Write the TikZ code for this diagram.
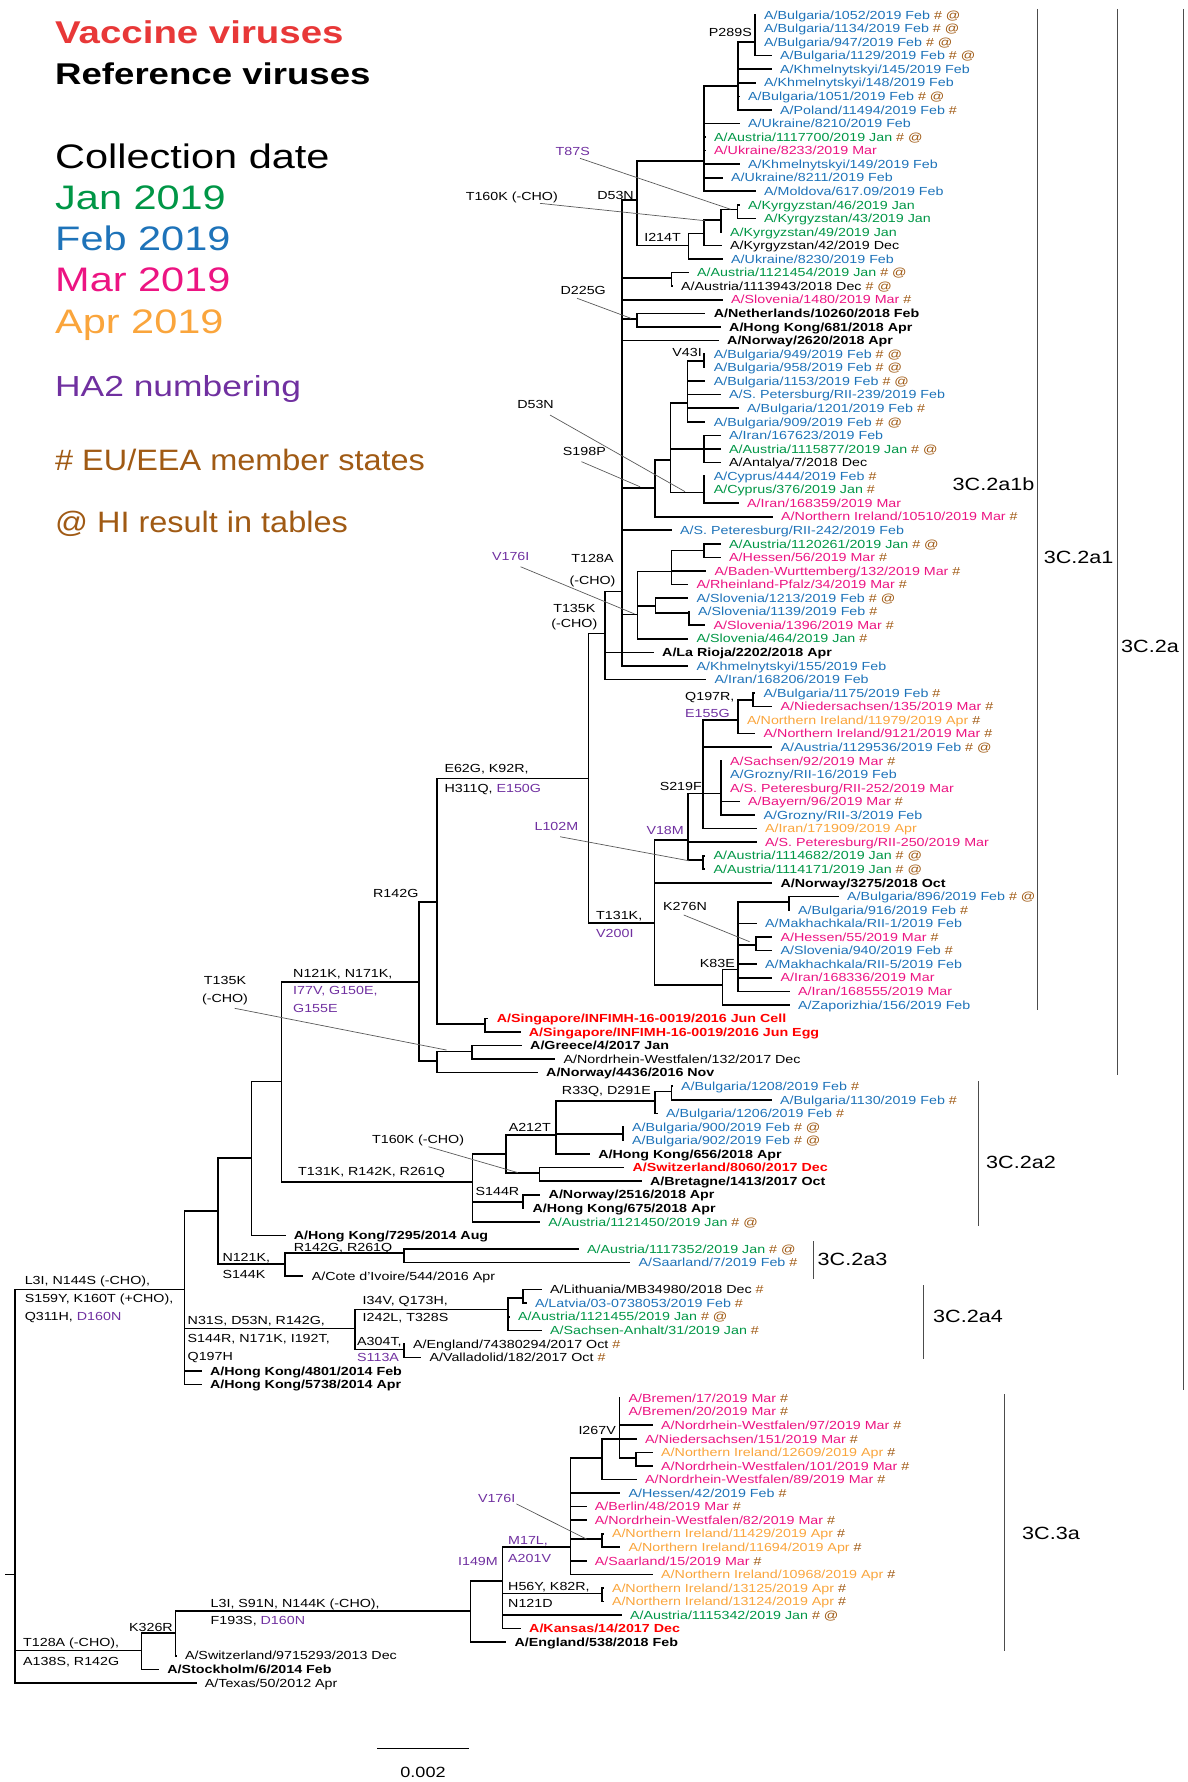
\documentclass[tikz,border=0pt]{standalone}
\usepackage{fontspec}
\setmainfont[FakeStretch=1.22]{Liberation Sans}
\newfontfamily\legB[FakeStretch=1.1]{Liberation Sans}
\definecolor{jan}{RGB}{0,150,70}
\definecolor{feb}{RGB}{30,115,185}
\definecolor{mar}{RGB}{236,20,130}
\definecolor{apr}{RGB}{250,165,60}
\definecolor{ha}{RGB}{112,48,160}
\definecolor{brn}{RGB}{160,90,20}
\definecolor{vred}{RGB}{255,0,0}
\definecolor{lred}{RGB}{232,56,56}
\newcommand\lfont{\fontsize{11.7}{13}\selectfont}
\newcommand\HS{ \textcolor{brn}{\#}}
\newcommand\HA{ \textcolor{brn}{\# @}}
\newcommand\pu[1]{\textcolor{ha}{#1}}
\newcommand\lf[5]{\node[leaf,#4] (n#1) at ({#3-9},#1) {#5}; \draw[br] (#2,#1) -- (n#1.west);}
\newcommand\cl[5]{\draw[br] (#1,#2) -- (#3,#2) (#3,#4) -- (#3,#5);}
\begin{document}
\begin{tikzpicture}[x=1pt,y=-1pt,
  br/.style={line width=1.6pt,line cap=rect},
  ld/.style={draw=black!65,line width=0.7pt},
  cbar/.style={draw=black!70,line width=1pt},
  leaf/.style={anchor=west,inner xsep=9pt,inner ysep=0pt,font=\lfont,text height=9pt,text depth=0.6pt},
  mut/.style={font=\lfont,inner sep=0pt,text height=9pt,text depth=0.6pt},
  ja/.style={text=jan}, fe/.style={text=feb}, ma/.style={text=mar}, ap/.style={text=apr},
  bk/.style={}, bf/.style={font=\lfont\bfseries}, vc/.style={font=\lfont\bfseries,text=vred},
  clab/.style={font=\fontsize{17.7}{20}\selectfont,anchor=west,inner sep=0pt,text height=12.7pt,text depth=0pt},
  leg/.style={anchor=base west,inner sep=0pt}]
\useasboundingbox (0,0) rectangle (1187,1782);
% legend
\node[leg,text=lred,font=\fontsize{31.5}{34}\selectfont\bfseries] (lgV) at (55,44) {Vaccine viruses};
\node[leg,font=\fontsize{30}{34}\selectfont\bfseries] (lgR) at (55,84.7) {Reference viruses};
\node[leg,font=\fontsize{34}{38}\selectfont] (lgC) at (55,168.9) {Collection date};
\node[leg,text=jan,font=\fontsize{34}{38}\selectfont] (lgJ) at (55,209.2) {Jan 2019};
\node[leg,text=feb,font=\fontsize{34}{38}\selectfont] (lgF) at (55,250.5) {Feb 2019};
\node[leg,text=mar,font=\fontsize{34}{38}\selectfont] (lgM) at (55,291.8) {Mar 2019};
\node[leg,text=apr,font=\fontsize{34}{38}\selectfont] (lgA) at (55,333.2) {Apr 2019};
\node[leg,text=ha,font=\fontsize{29}{32}\selectfont] (lgH) at (55,396.1) {HA2 numbering};
\node[leg,text=brn,font=\legB\fontsize{29.5}{32}\selectfont] (lgE) at (55,470.3) {\# EU/EEA member states};
\node[leg,text=brn,font=\legB\fontsize{29.5}{32}\selectfont] (lgI) at (55,532.3) {@ HI result in tables};
% clade bars
\draw[cbar] (1037,9) -- (1037,1010);
\draw[cbar] (1117,9) -- (1117,1075);
\draw[cbar] (1183.5,9) -- (1183.5,1389.5);
\draw[cbar] (978,1081) -- (978,1225.5);
\draw[cbar] (813.3,1241) -- (813.3,1279.3);
\draw[cbar] (923.5,1285) -- (923.5,1359);
\draw[cbar] (1004,1394) -- (1004,1651);
\node[clab] (c1) at (952.5,484.3) {3C.2a1b};
\node[clab] (c2) at (1043.6,556.7) {3C.2a1};
\node[clab] (c3) at (1121,646) {3C.2a};
\node[clab] (c4) at (986,1161.7) {3C.2a2};
\node[clab] (c5) at (817.5,1259.3) {3C.2a3};
\node[clab] (c6) at (933,1316) {3C.2a4};
\node[clab] (c7) at (1022,1533.3) {3C.3a};
% scale bar
\draw[line width=1.6pt] (377,1748.3) -- (468.8,1748.3);
\node[font=\fontsize{14.8}{16}\selectfont,inner sep=0pt] (sc) at (423,1772.7) {0.002};
\begin{scope}[y=-13.56pt,yshift=-1.44pt]
% internal nodes
\cl{738}{2.97}{754.8}{1}{4}
\cl{704}{6.24}{738}{2.97}{8}
\cl{636.7}{11.77}{704}{6.24}{14}
\cl{721}{15.35}{737.5}{15}{16}
\cl{704}{16.1}{721}{15.35}{17}
\cl{688.3}{17.1}{704}{16.1}{18}
\cl{636.7}{18}{688.3}{17.1}{19}
\cl{622}{14.65}{636.7}{11.77}{18}
\cl{622}{20.4}{671.6}{20}{21}
\cl{622}{23.4}{637}{23}{24}
\cl{687.4}{26.5}{704}{26}{27}
\cl{670.3}{29.6}{687.4}{26.5}{31}
\cl{670.3}{33}{704}{32}{34}
\cl{670.3}{36.2}{704}{35}{37}
\cl{655}{33.8}{670.3}{29.6}{36.2}
\cl{622}{35.9}{655}{33.8}{38}
\cl{671.6}{40.5}{704}{40}{41}
\cl{637.4}{42.05}{671.6}{40.5}{43}
\cl{655.4}{45.1}{688.8}{45}{46}
\cl{637.4}{44.6}{655.4}{44}{45.1}
\cl{622}{45.2}{637.4}{42.05}{47}
\cl{605}{43.5}{622}{14.65}{49}
\cl{588.5}{46.6}{605}{43.5}{50}
\cl{737.7}{51.5}{753.2}{51}{52}
\cl{703.2}{53}{737.7}{51.5}{54}
\cl{703.2}{58.4}{720.7}{56}{60}
\cl{687.8}{58.4}{703.2}{53}{61}
\cl{687.8}{63.3}{703.2}{63}{64}
\cl{654.3}{61.84}{687.8}{58.4}{63.3}
\cl{737.7}{66.4}{789}{66}{67}
\cl{737.7}{69.6}{755.7}{69}{70}
\cl{722.3}{71.4}{737.7}{66.4}{73}
\cl{654.3}{72.53}{722.3}{71.4}{74}
\cl{588.5}{67.98}{654.3}{61.84}{72.53}
\cl{437}{57.3}{588.5}{46.6}{67.98}
\cl{437}{75.4}{485}{75}{76}
\cl{419}{66.4}{437}{57.3}{75.4}
\cl{437}{77.45}{472.2}{77}{78}
\cl{419}{78.14}{437}{77.45}{79}
\cl{281.5}{72.3}{419}{66.4}{78.14}
\cl{655.2}{80.4}{671.3}{80}{81}
\cl{555.8}{81.1}{655.2}{80.4}{82}
\cl{555.8}{83.5}{623.1}{83}{84}
\cl{505.8}{83.6}{555.8}{81.1}{85}
\cl{505.8}{86.4}{539.3}{86}{87}
\cl{472.3}{85}{505.8}{83.6}{86.4}
\cl{472.3}{88.55}{522.9}{88}{89}
\cl{281.5}{87.04}{472.3}{85}{90}
\cl{251.3}{79.66}{281.5}{72.3}{87.04}
\cl{218}{85.3}{251.3}{79.66}{91}
\cl{284.8}{92.3}{404}{92}{93}
\cl{218}{93.1}{284.8}{92.3}{94}
\cl{184.4}{89.2}{218}{85.3}{93.1}
\cl{508}{95.6}{523.2}{95}{96}
\cl{355}{96.45}{508}{95.6}{98}
\cl{355}{99.4}{404}{99}{100}
\cl{184.4}{97.85}{355}{96.45}{99.4}
\cl{15}{94.98}{184.4}{89.2}{102}
\cl{619.3}{107.4}{636}{107}{108}
\cl{601.8}{106}{619.3}{103}{107.4}
\cl{570.6}{107.4}{601.8}{106}{109}
\cl{570.6}{113.4}{601.8}{113}{114}
\cl{502.6}{114}{570.6}{107.4}{116}
\cl{502.6}{117.4}{601.8}{117}{118}
\cl{470.3}{116.5}{502.6}{114}{120}
\cl{175.3}{118.7}{470.3}{116.5}{121}
\cl{141.6}{120.3}{175.3}{118.7}{122}
\cl{15}{121.6}{141.6}{120.3}{123}
\draw[br] (5.7,116) -- (15,116) (15,94.98) -- (15,124);
% leaves
\lf{1}{754.8}{764}{fe}{A/Bulgaria/1052/2019 Feb\HA}
\lf{2}{754.8}{764}{fe}{A/Bulgaria/1134/2019 Feb\HA}
\lf{3}{754.8}{764}{fe}{A/Bulgaria/947/2019 Feb\HA}
\lf{4}{754.8}{780}{fe}{A/Bulgaria/1129/2019 Feb\HA}
\lf{5}{738}{780}{fe}{A/Khmelnytskyi/145/2019 Feb}
\lf{6}{738}{764}{fe}{A/Khmelnytskyi/148/2019 Feb}
\lf{7}{738}{748}{fe}{A/Bulgaria/1051/2019 Feb\HA}
\lf{8}{738}{780}{fe}{A/Poland/11494/2019 Feb\HS}
\lf{9}{704}{748}{fe}{A/Ukraine/8210/2019 Feb}
\lf{10}{704}{714}{ja}{A/Austria/1117700/2019 Jan\HA}
\lf{11}{704}{714}{ma}{A/Ukraine/8233/2019 Mar}
\lf{12}{704}{748}{fe}{A/Khmelnytskyi/149/2019 Feb}
\lf{13}{704}{731}{fe}{A/Ukraine/8211/2019 Feb}
\lf{14}{704}{764}{fe}{A/Moldova/617.09/2019 Feb}
\lf{15}{737.5}{748}{ja}{A/Kyrgyzstan/46/2019 Jan}
\lf{16}{737.5}{764}{ja}{A/Kyrgyzstan/43/2019 Jan}
\lf{17}{721}{730}{ja}{A/Kyrgyzstan/49/2019 Jan}
\lf{18}{704}{730}{bk}{A/Kyrgyzstan/42/2019 Dec}
\lf{19}{688.3}{731}{fe}{A/Ukraine/8230/2019 Feb}
\lf{20}{671.6}{697}{ja}{A/Austria/1121454/2019 Jan\HA}
\lf{21}{671.6}{681}{bk}{A/Austria/1113943/2018 Dec\HA}
\lf{22}{622}{731}{ma}{A/Slovenia/1480/2019 Mar\HS}
\lf{23}{637}{713.6}{bf}{A/Netherlands/10260/2018 Feb}
\lf{24}{637}{729}{bf}{A/Hong Kong/681/2018 Apr}
\lf{25}{622}{727}{bf}{A/Norway/2620/2018 Apr}
\lf{26}{704}{713.6}{fe}{A/Bulgaria/949/2019 Feb\HA}
\lf{27}{704}{713.6}{fe}{A/Bulgaria/958/2019 Feb\HA}
\lf{28}{687.4}{713.6}{fe}{A/Bulgaria/1153/2019 Feb\HA}
\lf{29}{687.4}{729}{fe}{A/S. Petersburg/RII-239/2019 Feb}
\lf{30}{687.4}{747}{fe}{A/Bulgaria/1201/2019 Feb\HS}
\lf{31}{687.4}{713.6}{fe}{A/Bulgaria/909/2019 Feb\HA}
\lf{32}{704}{729}{fe}{A/Iran/167623/2019 Feb}
\lf{33}{704}{729}{ja}{A/Austria/1115877/2019 Jan\HA}
\lf{34}{704}{729}{bk}{A/Antalya/7/2018 Dec}
\lf{35}{704}{713.6}{fe}{A/Cyprus/444/2019 Feb\HS}
\lf{36}{704}{713.6}{ja}{A/Cyprus/376/2019 Jan\HS}
\lf{37}{704}{747}{ma}{A/Iran/168359/2019 Mar}
\lf{38}{655}{781}{ma}{A/Northern Ireland/10510/2019 Mar\HS}
\lf{39}{622}{680}{fe}{A/S. Peteresburg/RII-242/2019 Feb}
\lf{40}{704}{729}{ja}{A/Austria/1120261/2019 Jan\HA}
\lf{41}{704}{729}{ma}{A/Hessen/56/2019 Mar\HS}
\lf{42}{671.6}{714.5}{ma}{A/Baden-Wurttemberg/132/2019 Mar\HS}
\lf{43}{671.6}{696.4}{ma}{A/Rheinland-Pfalz/34/2019 Mar\HS}
\lf{44}{655.4}{696.5}{fe}{A/Slovenia/1213/2019 Feb\HA}
\lf{45}{688.8}{698}{fe}{A/Slovenia/1139/2019 Feb\HS}
\lf{46}{688.8}{713.5}{ma}{A/Slovenia/1396/2019 Mar\HS}
\lf{47}{637.4}{696.5}{ja}{A/Slovenia/464/2019 Jan\HS}
\lf{48}{605}{662}{bf}{A/La Rioja/2202/2018 Apr}
\lf{49}{622}{696.5}{fe}{A/Khmelnytskyi/155/2019 Feb}
\lf{50}{605}{714.5}{fe}{A/Iran/168206/2019 Feb}
\lf{51}{753.2}{763.5}{fe}{A/Bulgaria/1175/2019 Feb\HS}
\lf{52}{753.2}{780.4}{ma}{A/Niedersachsen/135/2019 Mar\HS}
\lf{53}{737.7}{747}{ap}{A/Northern Ireland/11979/2019 Apr\HS}
\lf{54}{737.7}{763.5}{ma}{A/Northern Ireland/9121/2019 Mar\HS}
\lf{55}{703.2}{780.4}{fe}{A/Austria/1129536/2019 Feb\HA}
\lf{56}{720.7}{730}{ma}{A/Sachsen/92/2019 Mar\HS}
\lf{57}{720.7}{730}{fe}{A/Grozny/RII-16/2019 Feb}
\lf{58}{720.7}{730}{ma}{A/S. Peteresburg/RII-252/2019 Mar}
\lf{59}{720.7}{748}{ma}{A/Bayern/96/2019 Mar\HS}
\lf{60}{720.7}{763.5}{fe}{A/Grozny/RII-3/2019 Feb}
\lf{61}{703.2}{765}{ap}{A/Iran/171909/2019 Apr}
\lf{62}{687.8}{765}{ma}{A/S. Peteresburg/RII-250/2019 Mar}
\lf{63}{703.2}{713.5}{ja}{A/Austria/1114682/2019 Jan\HA}
\lf{64}{703.2}{713.5}{ja}{A/Austria/1114171/2019 Jan\HA}
\lf{65}{654.3}{780.4}{bf}{A/Norway/3275/2018 Oct}
\lf{66}{789}{847}{fe}{A/Bulgaria/896/2019 Feb\HA}
\lf{67}{789}{798}{fe}{A/Bulgaria/916/2019 Feb\HS}
\lf{68}{737.7}{765}{fe}{A/Makhachkala/RII-1/2019 Feb}
\lf{69}{755.7}{780.4}{ma}{A/Hessen/55/2019 Mar\HS}
\lf{70}{755.7}{780.4}{fe}{A/Slovenia/940/2019 Feb\HS}
\lf{71}{737.7}{765}{fe}{A/Makhachkala/RII-5/2019 Feb}
\lf{72}{737.7}{780.4}{ma}{A/Iran/168336/2019 Mar}
\lf{73}{737.7}{798}{ma}{A/Iran/168555/2019 Mar}
\lf{74}{722.3}{798}{fe}{A/Zaporizhia/156/2019 Feb}
\lf{75}{485}{496.6}{vc}{A/Singapore/INFIMH-16-0019/2016 Jun Cell}
\lf{76}{485}{528.7}{vc}{A/Singapore/INFIMH-16-0019/2016 Jun Egg}
\lf{77}{472.2}{530}{bf}{A/Greece/4/2017 Jan}
\lf{78}{472.2}{563.4}{bk}{A/Nordrhein-Westfalen/132/2017 Dec}
\lf{79}{437}{546}{bf}{A/Norway/4436/2016 Nov}
\lf{80}{671.3}{681}{fe}{A/Bulgaria/1208/2019 Feb\HS}
\lf{81}{671.3}{780}{fe}{A/Bulgaria/1130/2019 Feb\HS}
\lf{82}{655.2}{666}{fe}{A/Bulgaria/1206/2019 Feb\HS}
\lf{83}{623.1}{632}{fe}{A/Bulgaria/900/2019 Feb\HA}
\lf{84}{623.1}{632}{fe}{A/Bulgaria/902/2019 Feb\HA}
\lf{85}{555.8}{598.2}{bf}{A/Hong Kong/656/2018 Apr}
\lf{86}{539.3}{632.4}{vc}{A/Switzerland/8060/2017 Dec}
\lf{87}{539.3}{649.8}{bf}{A/Bretagne/1413/2017 Oct}
\lf{88}{522.9}{548.5}{bf}{A/Norway/2516/2018 Apr}
\lf{89}{522.9}{532.3}{bf}{A/Hong Kong/675/2018 Apr}
\lf{90}{472.3}{548.2}{ja}{A/Austria/1121450/2019 Jan\HA}
\lf{91}{251.3}{293.7}{bf}{A/Hong Kong/7295/2014 Aug}
\lf{92}{404}{587}{ja}{A/Austria/1117352/2019 Jan\HA}
\lf{93}{404}{638.4}{fe}{A/Saarland/7/2019 Feb\HS}
\lf{94}{284.8}{311.6}{bk}{A/Cote d'Ivoire/544/2016 Apr}
\lf{95}{523.2}{550}{bk}{A/Lithuania/MB34980/2018 Dec\HS}
\lf{96}{523.2}{534.8}{fe}{A/Latvia/03-0738053/2019 Feb\HS}
\lf{97}{508}{517.8}{ja}{A/Austria/1121455/2019 Jan\HA}
\lf{98}{508}{550}{ja}{A/Sachsen-Anhalt/31/2019 Jan\HS}
\lf{99}{404}{413}{bk}{A/England/74380294/2017 Oct\HS}
\lf{100}{404}{429.4}{bk}{A/Valladolid/182/2017 Oct\HS}
\lf{101}{184.4}{209.8}{bf}{A/Hong Kong/4801/2014 Feb}
\lf{102}{184.4}{209.8}{bf}{A/Hong Kong/5738/2014 Apr}
\lf{103}{619.3}{628.4}{ma}{A/Bremen/17/2019 Mar\HS}
\lf{104}{619.3}{628.4}{ma}{A/Bremen/20/2019 Mar\HS}
\lf{105}{619.3}{661}{ma}{A/Nordrhein-Westfalen/97/2019 Mar\HS}
\lf{106}{619.3}{645}{ma}{A/Niedersachsen/151/2019 Mar\HS}
\lf{107}{636}{661}{ap}{A/Northern Ireland/12609/2019 Apr\HS}
\lf{108}{636}{661}{ma}{A/Nordrhein-Westfalen/101/2019 Mar\HS}
\lf{109}{601.8}{645}{ma}{A/Nordrhein-Westfalen/89/2019 Mar\HS}
\lf{110}{570.6}{628.4}{fe}{A/Hessen/42/2019 Feb\HS}
\lf{111}{570.6}{594.7}{ma}{A/Berlin/48/2019 Mar\HS}
\lf{112}{570.6}{594.7}{ma}{A/Nordrhein-Westfalen/82/2019 Mar\HS}
\lf{113}{601.8}{611.8}{ap}{A/Northern Ireland/11429/2019 Apr\HS}
\lf{114}{601.8}{628.4}{ap}{A/Northern Ireland/11694/2019 Apr\HS}
\lf{115}{570.6}{594.7}{ma}{A/Saarland/15/2019 Mar\HS}
\lf{116}{570.6}{661}{ap}{A/Northern Ireland/10968/2019 Apr\HS}
\lf{117}{601.8}{611.8}{ap}{A/Northern Ireland/13125/2019 Apr\HS}
\lf{118}{601.8}{611.8}{ap}{A/Northern Ireland/13124/2019 Apr\HS}
\lf{119}{502.6}{629.9}{ja}{A/Austria/1115342/2019 Jan\HA}
\lf{120}{502.6}{529}{vc}{A/Kansas/14/2017 Dec}
\lf{121}{470.3}{514.4}{bf}{A/England/538/2018 Feb}
\lf{122}{175.3}{184.8}{bk}{A/Switzerland/9715293/2013 Dec}
\lf{123}{141.6}{167.2}{bf}{A/Stockholm/6/2014 Feb}
\lf{124}{15}{204.7}{bk}{A/Texas/50/2012 Apr}
% mutation labels
\node[mut,anchor=east] (mP289S) at (752,2.28) {P289S};
\node[mut,anchor=east,text=ha] (mT87S) at (590,11.08) {T87S};
\node[mut,anchor=east] (mT160Ka) at (558,14.35) {T160K (-CHO)};
\node[mut,anchor=east] (mD53Na) at (634,14.3) {D53N};
\node[mut,anchor=east] (mI214T) at (681,17.42) {I214T};
\node[mut,anchor=east] (mD225G) at (606,21.28) {D225G};
\node[mut,anchor=east] (mV43I) at (702,25.9) {V43I};
\node[mut,anchor=east] (mD53Nb) at (554,29.7) {D53N};
\node[mut,anchor=east] (mS198P) at (606,33.2) {S198P};
\node[mut] (mT128A) at (592.5,41.07) {T128A};
\node[mut] (mT128Ab) at (592.5,42.7) {(-CHO)};
\node[mut,anchor=east,text=ha] (mV176Ia) at (529.6,40.95) {V176I};
\node[mut] (mT135K) at (574.3,44.75) {T135K};
\node[mut] (mT135Kb) at (574.3,45.86) {(-CHO)};
\node[mut,anchor=west] (mQ197R) at (685,51.27) {Q197R,};
\node[mut,anchor=west,text=ha] (mE155G) at (685,52.5) {E155G};
\node[mut,anchor=west] (mE62G) at (444.3,56.55) {E62G, K92R,};
\node[mut,anchor=west] (mH311Q) at (444.3,58.03) {H311Q, \pu{E150G}};
\node[mut,anchor=east] (mS219F) at (702,57.86) {S219F};
\node[mut,anchor=west,text=ha] (mL102M) at (534.4,60.86) {L102M};
\node[mut,anchor=east,text=ha] (mV18M) at (684,61.1) {V18M};
\node[mut,anchor=east] (mR142G) at (418.6,65.77) {R142G};
\node[mut,anchor=west] (mT131K) at (596,67.4) {T131K,};
\node[mut,anchor=west,text=ha] (mV200I) at (596,68.7) {V200I};
\node[mut,anchor=west] (mK276N) at (663,66.76) {K276N};
\node[mut,anchor=east] (mK83E) at (735,70.9) {K83E};
\node[mut,anchor=west] (mN121Ka) at (293,71.65) {N121K, N171K,};
\node[mut,anchor=west,text=ha] (mI77V) at (293,72.9) {I77V, G150E,};
\node[mut,anchor=west,text=ha] (mG155E) at (293,74.25) {G155E};
\node[mut] (mT135Kc) at (225,72.2) {T135K};
\node[mut] (mT135Kd) at (225,73.5) {(-CHO)};
\node[mut,anchor=east] (mR33Q) at (651,80.3) {R33Q, D291E};
\node[mut,anchor=east] (mA212T) at (551,83.0) {A212T};
\node[mut,anchor=east] (mT160Kb) at (464.3,83.9) {T160K (-CHO)};
\node[mut,anchor=west] (mT131Kb) at (298,86.3) {T131K, R142K, R261Q};
\node[mut,anchor=west] (mS144R) at (475.4,87.77) {S144R};
\node[mut,anchor=west] (mR142Gb) at (293.7,91.9) {R142G, R261Q};
\node[mut,anchor=west] (mN121Kb) at (222.3,92.6) {N121K,};
\node[mut,anchor=west] (mS144K) at (222.3,93.85) {S144K};
\node[mut,anchor=west] (mL3Ia) at (24.6,94.34) {L3I, N144S (-CHO),};
\node[mut,anchor=west] (mL3Ib) at (24.6,95.64) {S159Y, K160T (+CHO),};
\node[mut,anchor=west] (mL3Ic) at (24.6,96.94) {Q311H, \pu{D160N}};
\node[mut,anchor=west] (mN31Sa) at (187.5,97.24) {N31S, D53N, R142G,};
\node[mut,anchor=west] (mN31Sb) at (187.5,98.6) {S144R, N171K, I192T,};
\node[mut,anchor=west] (mN31Sc) at (187.5,99.9) {Q197H};
\node[mut,anchor=west] (mI34Va) at (362.5,95.76) {I34V, Q173H,};
\node[mut,anchor=west] (mI34Vb) at (362.5,97.04) {I242L, T328S};
\node[mut,anchor=west] (mA304T) at (357,98.84) {A304T,};
\node[mut,anchor=west,text=ha] (mS113A) at (357,100.0) {S113A};
\node[mut,anchor=east] (mI267V) at (616,105.35) {I267V};
\node[mut,anchor=west,text=ha] (mV176Ib) at (477.8,110.4) {V176I};
\node[mut,anchor=west,text=ha] (mM17L) at (508,113.5) {M17L,};
\node[mut,anchor=west,text=ha] (mA201V) at (508,114.8) {A201V};
\node[mut,anchor=west] (mH56Y) at (508,116.9) {H56Y, K82R,};
\node[mut,anchor=west] (mN121D) at (508,118.1) {N121D};
\node[mut,anchor=east,text=ha] (mI149M) at (498,115.0) {I149M};
\node[mut,anchor=west] (mL3Id) at (210.5,118.1) {L3I, S91N, N144K (-CHO),};
\node[mut,anchor=west] (mL3Ie) at (210.5,119.4) {F193S, \pu{D160N}};
\node[mut,anchor=east] (mK326R) at (173,119.9) {K326R};
\node[mut,anchor=west] (mT128Aa) at (23,121.04) {T128A (-CHO),};
\node[mut,anchor=west] (mT128Ac) at (23,122.4) {A138S, R142G};
% leader lines
\draw[ld] (580,11.57) -- (730.7,15.33);
\draw[ld] (540,14.89) -- (705,16.17);
\draw[ld] (577,21.89) -- (631,23.37);
\draw[ld] (550,30.5) -- (685,36.15);
\draw[ld] (581.5,33.94) -- (640,35.79);
\draw[ld] (520.6,41.69) -- (634.5,45.17);
\draw[ld] (560.1,61.6) -- (688.8,63.37);
\draw[ld] (683.7,67.37) -- (749.6,69.34);
\draw[ld] (234.6,74.25) -- (446.5,77.33);
\draw[ld] (428.5,84.46) -- (517.8,86.37);
\draw[ld] (516.4,110.8) -- (586.7,113.4);
\end{scope}
\end{tikzpicture}
\end{document}
